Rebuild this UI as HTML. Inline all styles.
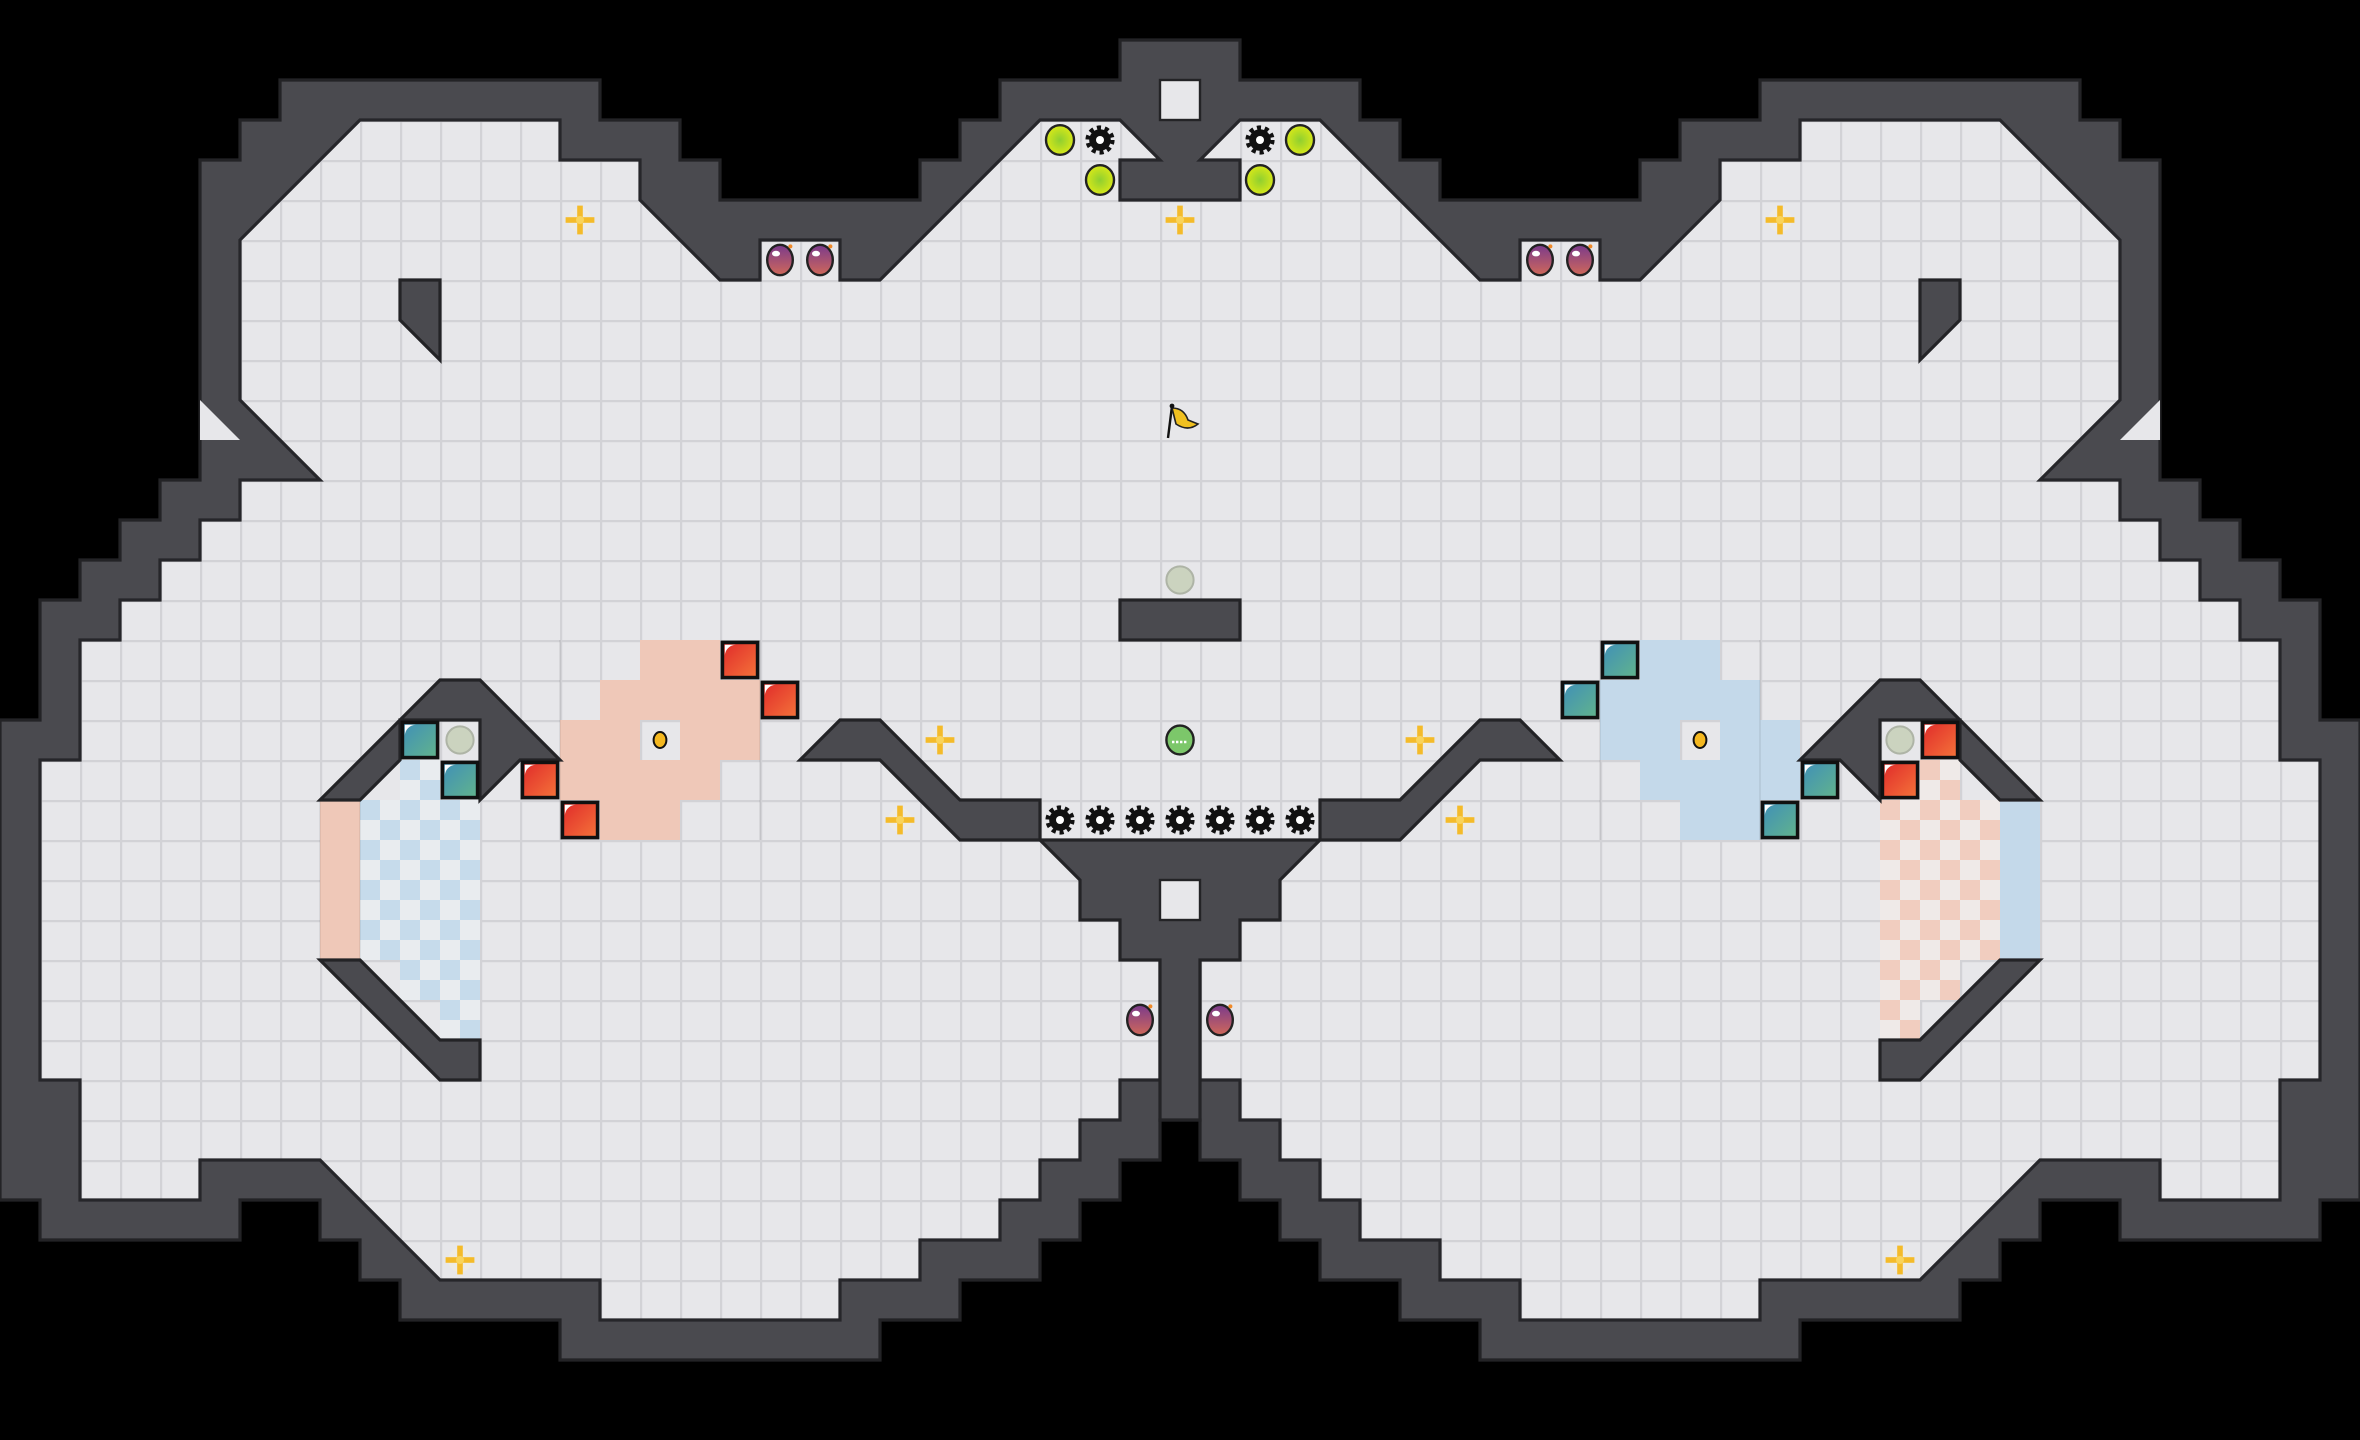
<!DOCTYPE html>
<html><head><meta charset="utf-8"><style>html,body{margin:0;padding:0;background:#000;}svg{display:block}</style></head>
<body>
<svg xmlns="http://www.w3.org/2000/svg" xmlns:xlink="http://www.w3.org/1999/xlink" width="2360" height="1440" viewBox="0 0 59 36" preserveAspectRatio="none">
<defs>
<pattern id="fl" patternUnits="userSpaceOnUse" width="1" height="1">
<rect width="1" height="1" fill="#e7e7ea"/>
<path d="M0 0.02H1M0.02 0V1" stroke="#d2d2d6" stroke-width="0.07"/>
</pattern>
<pattern id="chb" patternUnits="userSpaceOnUse" width="1" height="1">
<rect width="1" height="1" fill="#e9ecef"/>
<rect width="0.5" height="0.5" fill="#c6dbeb"/><rect x="0.5" y="0.5" width="0.5" height="0.5" fill="#c6dbeb"/>
</pattern>
<pattern id="chs" patternUnits="userSpaceOnUse" width="1" height="1">
<rect width="1" height="1" fill="#efeae8"/>
<rect width="0.5" height="0.5" fill="#f1cdbf"/><rect x="0.5" y="0.5" width="0.5" height="0.5" fill="#f1cdbf"/>
</pattern>
<linearGradient id="rg" x1="0" y1="0" x2="1" y2="1"><stop offset="0" stop-color="#e02a2a"/><stop offset="1" stop-color="#f4743a"/></linearGradient>
<linearGradient id="tg" x1="0" y1="0" x2="1" y2="1"><stop offset="0" stop-color="#3f8fb8"/><stop offset="1" stop-color="#62b48c"/></linearGradient>
<linearGradient id="bg" x1="0" y1="0" x2="0" y2="1"><stop offset="0" stop-color="#7a3a8c"/><stop offset="1" stop-color="#d0685a"/></linearGradient>
<radialGradient id="lg"><stop offset="0" stop-color="#8fcf30"/><stop offset="1" stop-color="#d8e818"/></radialGradient>
<g id="red"><rect x="0.06" y="0.06" width="0.88" height="0.88" fill="url(#rg)" stroke="#111" stroke-width="0.09"/><path d="M0.12 0.12H0.4A0.28 0.28 0 0 0 0.12 0.4Z" fill="#fff"/></g>
<g id="teal"><rect x="0.06" y="0.06" width="0.88" height="0.88" fill="url(#tg)" stroke="#111" stroke-width="0.09"/><path d="M0.12 0.12H0.4A0.28 0.28 0 0 0 0.12 0.4Z" fill="#fff"/></g>
<g id="cross"><circle r="0.3" fill="#f3eedd" opacity="0.6"/><rect x="-0.07" y="-0.36" width="0.14" height="0.72" fill="#f4bb2a"/><rect x="-0.36" y="-0.07" width="0.72" height="0.14" fill="#f4bb2a"/><circle r="0.1" fill="#f9d45a"/></g>
<g id="bomb"><ellipse rx="0.32" ry="0.38" fill="url(#bg)" stroke="#222" stroke-width="0.06"/><ellipse cx="-0.1" cy="-0.16" rx="0.1" ry="0.07" fill="#fff"/><circle cx="0.26" cy="-0.34" r="0.05" fill="#f08a2a"/></g>
<g id="lime"><ellipse rx="0.35" ry="0.37" fill="url(#lg)" stroke="#222" stroke-width="0.06"/></g>
<g id="gear"><circle r="0.27" fill="#111"/><circle r="0.3" fill="none" stroke="#111" stroke-width="0.13" stroke-dasharray="0.1 0.09"/><circle r="0.1" fill="#fff"/></g>
<g id="gray"><circle r="0.34" fill="#cbd3bf" stroke="#aeb4a6" stroke-width="0.05"/></g>
</defs>
<rect width="59" height="36" fill="#000"/>
<!-- outer wall -->
<polygon fill="#4a4a4f" stroke="#232326" stroke-width="0.08" points="28,1 28,2 25,2 25,3 24,3 24,4 23,4 23,5 18,5 18,4 17,4 17,3 15,3 15,2 7,2 7,3 6,3 6,4 5,4 5,12 4,12 4,13 3,13 3,14 2,14 2,15 1,15 1,18 0,18 0,30 1,30 1,31 6,31 6,30 8,30 8,31 9,31 9,32 10,32 10,33 14,33 14,34 22,34 22,33 24,33 24,32 26,32 26,31 27,31 27,30 28,30 28,29 29,29 29,28 30,28 30,29 31,29 31,30 32,30 32,31 33,31 33,32 35,32 35,33 37,33 37,34 45,34 45,33 49,33 49,32 50,32 50,31 51,31 51,30 53,30 53,31 58,31 58,30 59,30 59,18 58,18 58,15 57,15 57,14 56,14 56,13 55,13 55,12 54,12 54,4 53,4 53,3 52,3 52,2 44,2 44,3 42,3 42,4 41,4 41,5 36,5 36,4 35,4 35,3 34,3 34,2 31,2 31,1"/>
<!-- light triangles in wall -->
<polygon fill="#e7e7ea" points="5,10 6,11 5,11"/>
<polygon fill="#e7e7ea" points="54,10 53,11 54,11"/>
<!-- top center white tile -->
<rect x="29" y="2" width="1" height="1" fill="#e7e7ea" stroke="#232326" stroke-width="0.06"/>
<!-- floor -->
<polygon fill="url(#fl)" stroke="#26262a" stroke-width="0.08" points="9,3 14,3 14,4 16,4 16,5 18,7 19,7 19,6 21,6 21,7 22,7 26,3 28,3 29,4 28,4 28,5 31,5 31,4 30,4 31,3 33,3 37,7 38,7 38,6 40,6 40,7 41,7 43,5 43,4 45,4 45,3 50,3 53,6 53,10 51,12 53,12 53,13 54,13 54,14 55,14 55,15 56,15 56,16 57,16 57,19 58,19 58,27 57,27 57,30 54,30 54,29 51,29 48,32 44,32 44,33 38,33 38,32 36,32 36,31 34,31 34,30 33,30 33,29 32,29 32,28 31,28 31,27 30,27 30,24 29,24 29,27 28,27 28,28 27,28 27,29 26,29 26,30 25,30 25,31 23,31 23,32 21,32 21,33 15,33 15,32 11,32 8,29 5,29 5,30 2,30 2,27 1,27 1,19 2,19 2,16 3,16 3,15 4,15 4,14 5,14 5,13 6,13 6,12 8,12 6,10 6,6"/>
<!-- colored cells left -->
<g fill="#efc8b8">
<rect x="16" y="16" width="1" height="1"/><rect x="17" y="16" width="1" height="1"/>
<rect x="15" y="17" width="4" height="1"/>
<rect x="14" y="18" width="2" height="1"/><rect x="17" y="18" width="2" height="1"/>
<rect x="14" y="19" width="4" height="1"/>
<rect x="15" y="20" width="2" height="1"/>
<rect x="8" y="20" width="1" height="4"/>
</g>
<g fill="url(#chb)">
<rect x="10" y="19" width="1" height="1"/><rect x="9" y="20" width="3" height="4"/><rect x="10" y="24" width="2" height="1"/><rect x="11" y="25" width="1" height="2"/>
</g>
<!-- colored cells right -->
<g fill="#c4d9ea">
<rect x="41" y="16" width="1" height="1"/><rect x="42" y="16" width="1" height="1"/>
<rect x="40" y="17" width="4" height="1"/>
<rect x="40" y="18" width="2" height="1"/><rect x="43" y="18" width="2" height="1"/>
<rect x="41" y="19" width="4" height="1"/>
<rect x="42" y="20" width="2" height="1"/>
<rect x="50" y="20" width="1" height="4"/>
</g>
<g fill="url(#chs)">
<rect x="48" y="19" width="1" height="1"/><rect x="47" y="20" width="3" height="4"/><rect x="47" y="24" width="2" height="1"/><rect x="47" y="25" width="1" height="2"/>
</g>
<!-- grid overlay on colored -->
<g fill="none" stroke="#00000010" stroke-width="0.05">
<path d="M8 20V24M9 20V24M40 16V21M44 16V21M14 16V21M19 16V21"/>
</g>
<!-- wall islands -->
<g fill="#4a4a4f" stroke="#232326" stroke-width="0.08">
<polygon points="10,7 11,7 11,9 10,8"/>
<polygon points="49,7 48,7 48,9 49,8"/>
<rect x="28" y="15" width="3" height="1"/>
<polygon points="8,20 11,17 12,17 14,19 13,19 12,20 12,18 10,18 10,19 9,20"/>
<polygon points="51,20 48,17 47,17 45,19 46,19 47,20 47,18 49,18 49,19 50,20"/>
<polygon points="8,24 11,27 12,27 12,26 11,26 9,24"/>
<polygon points="51,24 48,27 47,27 47,26 48,26 50,24"/>
<polygon points="20,19 21,18 22,18 24,20 26,20 26,21 33,21 33,20 35,20 37,18 38,18 39,19 37,19 35,21 33,21 32,22 32,23 31,23 31,24 30,24 30,28 29,28 29,24 28,24 28,23 27,23 27,22 26,21 24,21 22,19"/>
</g>
<rect x="29" y="22" width="1" height="1" fill="#e7e7ea" stroke="#232326" stroke-width="0.06"/>
<!-- alcove cells light -->
<!-- blocks -->
<use xlink:href="#red" x="18" y="16"/><use xlink:href="#red" x="19" y="17"/><use xlink:href="#red" x="13" y="19"/><use xlink:href="#red" x="14" y="20"/>
<use xlink:href="#teal" x="10" y="18"/><use xlink:href="#teal" x="11" y="19"/>
<use xlink:href="#teal" x="40" y="16"/><use xlink:href="#teal" x="39" y="17"/><use xlink:href="#teal" x="45" y="19"/><use xlink:href="#teal" x="44" y="20"/>
<use xlink:href="#red" x="48" y="18"/><use xlink:href="#red" x="47" y="19"/>
<use xlink:href="#gray" x="11.5" y="18.5"/><use xlink:href="#gray" x="47.5" y="18.5"/><use xlink:href="#gray" x="29.5" y="14.5"/>
<!-- yellow dots -->
<ellipse cx="16.5" cy="18.5" rx="0.16" ry="0.2" fill="#f4b820" stroke="#111" stroke-width="0.05"/>
<ellipse cx="42.5" cy="18.5" rx="0.16" ry="0.2" fill="#f4b820" stroke="#111" stroke-width="0.05"/>
<!-- crosses -->
<use xlink:href="#cross" x="14.5" y="5.5"/><use xlink:href="#cross" x="29.5" y="5.5"/><use xlink:href="#cross" x="44.5" y="5.5"/>
<use xlink:href="#cross" x="23.5" y="18.5"/><use xlink:href="#cross" x="35.5" y="18.5"/>
<use xlink:href="#cross" x="22.5" y="20.5"/><use xlink:href="#cross" x="36.5" y="20.5"/>
<use xlink:href="#cross" x="11.5" y="31.5"/><use xlink:href="#cross" x="47.5" y="31.5"/>
<!-- bombs -->
<use xlink:href="#bomb" x="19.5" y="6.5"/><use xlink:href="#bomb" x="20.5" y="6.5"/>
<use xlink:href="#bomb" x="38.5" y="6.5"/><use xlink:href="#bomb" x="39.5" y="6.5"/>
<use xlink:href="#bomb" x="28.5" y="25.5"/><use xlink:href="#bomb" x="30.5" y="25.5"/>
<!-- lime -->
<use xlink:href="#lime" x="26.5" y="3.5"/><use xlink:href="#lime" x="27.5" y="4.5"/>
<use xlink:href="#lime" x="32.5" y="3.5"/><use xlink:href="#lime" x="31.5" y="4.5"/>
<!-- gears -->
<use xlink:href="#gear" x="27.5" y="3.5"/><use xlink:href="#gear" x="31.5" y="3.5"/>
<use xlink:href="#gear" x="26.5" y="20.5"/><use xlink:href="#gear" x="27.5" y="20.5"/><use xlink:href="#gear" x="28.5" y="20.5"/><use xlink:href="#gear" x="29.5" y="20.5"/><use xlink:href="#gear" x="30.5" y="20.5"/><use xlink:href="#gear" x="31.5" y="20.5"/><use xlink:href="#gear" x="32.5" y="20.5"/>
<!-- green ball -->
<ellipse cx="29.5" cy="18.5" rx="0.34" ry="0.36" fill="#7cc76a" stroke="#222" stroke-width="0.06"/>
<path d="M29.3 18.55h0.4" stroke="#fff" stroke-width="0.06" stroke-dasharray="0.06 0.04"/>
<!-- flag -->
<path d="M29.2 10.95 L29.3 10.15" stroke="#111" stroke-width="0.06"/>
<path d="M29.3 10.2 Q29.6 10.2 29.7 10.5 L29.95 10.6 Q29.7 10.8 29.4 10.6 Z" fill="#f0c020" stroke="#222" stroke-width="0.04"/>
<circle cx="29.3" cy="10.15" r="0.06" fill="#111"/>
</svg>
</body></html>
